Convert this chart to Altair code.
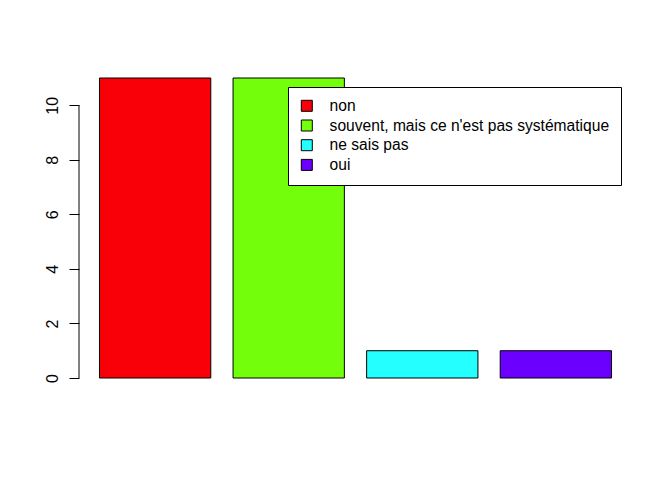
import altair as alt
import pandas as pd

categories = ["non", "souvent, mais ce n'est pas systématique", "ne sais pas", "oui"]
counts = [11, 11, 1, 1]
colors = ["#F90008", "#73FF0B", "#24FFFF", "#6C00FF"]
y_ticks = [0, 2, 4, 6, 8, 10]

df = pd.DataFrame({"cat": categories, "n": counts})
axis_df = pd.DataFrame({"y0": [y_ticks[0]], "y1": [y_ticks[-1]]})

yscale = alt.Scale(domain=[-0.44, 11.44], nice=False, zero=False)
yaxis = alt.Axis(values=y_ticks, title=None, domain=False, grid=False,
                 tickSize=10, tickColor="black", labelAngle=270,
                 labelAlign="center", labelBaseline="alphabetic",
                 labelPadding=12, labelFontSize=16, labelColor="black",
                 labelFont="Liberation Sans")

bars = alt.Chart(df).mark_bar(stroke="black", strokeWidth=1).encode(
    x=alt.X("cat:N", sort=categories, axis=None,
            scale=alt.Scale(paddingInner=0.1667, paddingOuter=0.1533)),
    y=alt.Y("n:Q", scale=yscale, axis=yaxis),
    y2=alt.datum(0),
    fill=alt.Fill("cat:N", sort=categories,
                  scale=alt.Scale(domain=categories, range=colors),
                  legend=alt.Legend(title=None, orient="none", legendX=209, legendY=21,
                                    symbolType="square", symbolSize=121,
                                    symbolStrokeColor="black", symbolStrokeWidth=1,
                                    labelFontSize=15.6, labelFont="Liberation Sans",
                                    labelColor="black", labelOffset=15, rowPadding=2.7,
                                    padding=11, strokeColor="black", fillColor="white",
                                    labelLimit=500)),
)

axis_line = alt.Chart(axis_df).mark_rule(color="black", strokeWidth=1).encode(
    y=alt.Y("y0:Q", scale=yscale, axis=yaxis),
    y2="y1:Q",
    x=alt.value(0),
)

chart = alt.layer(bars, axis_line).properties(
    width=553, height=324,
    autosize=alt.AutoSizeParams(type="none"),
    padding={"left": 79, "top": 66, "right": 40, "bottom": 90},
    background="white",
).configure_view(stroke=None)

chart.save("out.html", embed_options={"renderer": "svg", "actions": False})
